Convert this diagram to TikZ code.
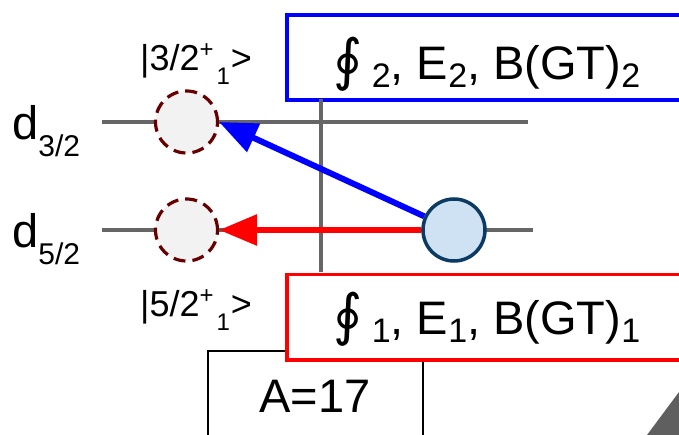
\documentclass[tikz,border=0pt]{standalone}
\usepackage{fontspec}
\setmainfont{Liberation Sans}
\newfontfamily\dejavu{DejaVu Sans}
\usetikzlibrary{arrows.meta}
\definecolor{boxblue}{HTML}{0000FF}
\definecolor{boxred}{HTML}{FF0000}
\definecolor{lvlgray}{HTML}{666666}
\definecolor{dashred}{HTML}{660000}
\definecolor{holefill}{HTML}{F2F2F2}
\definecolor{partfill}{HTML}{CFE2F3}
\definecolor{partdraw}{HTML}{0B3A63}
\definecolor{trigray}{HTML}{5F5F5F}
\newcommand{\bigsub}[1]{\raisebox{-8pt}{\fontsize{34}{34}\selectfont #1}}
\newcommand{\oin}{{\fontsize{56}{56}\selectfont\dejavu ∮}\hspace{9pt}}
\newcommand{\dsub}[1]{\raisebox{-17pt}{\fontsize{30}{30}\selectfont #1}}
\newcommand{\ketsup}[1]{\raisebox{13pt}{\fontsize{24}{24}\selectfont #1}}
\newcommand{\ketsub}[1]{\hspace{3pt}\raisebox{-14pt}{\fontsize{24}{24}\selectfont #1}\hspace{1pt}}
\begin{document}
\begin{tikzpicture}[x=1pt,y=-1pt,
  big/.style={font=\fontsize{47}{50}\selectfont},
  ket/.style={font=\fontsize{36}{40}\selectfont},
  level/.style={draw=lvlgray, line width=3.5pt},
  resbox/.style={line width=3.5pt, minimum width=440pt, minimum height=85pt, anchor=north west, inner sep=0pt},
  hole/.style={circle, inner sep=0pt, minimum size=62pt, draw=dashred, fill=holefill, line width=3.2pt, dash pattern=on 12pt off 7pt},
  part/.style={circle, inner sep=0pt, minimum size=62pt, draw=partdraw, fill=partfill, line width=3.5pt},
  trans/.style={line width=6pt, -{Triangle[length=38pt,width=30pt]}}]
\useasboundingbox (0,0) rectangle (679,435);
\clip (0,0) rectangle (679,435);

% A=17 box
\coordinate (abl) at (208,445);
\coordinate (abr) at (423,445);
\draw[black, line width=1.3pt] (abl) |- (315.5,351) -| (abr);
\node[big, anchor=base] (a17) at (315,412) {A=17};

% corner triangle
\fill[trigray] (647,435) -- (679,392) -- (679,435) -- cycle;

% result boxes
\node[resbox, draw=boxblue, fill=white] (b2) at (285,13.5) {};
\node[resbox, draw=boxred, fill=white] (b1) at (285,273) {};
\node[big, anchor=base] (t2) at (487,80) {\oin\bigsub{2}, E\bigsub{2}, B(GT)\bigsub{2}};
\node[big, anchor=base] (t1) at (487,334) {\oin\bigsub{1}, E\bigsub{1}, B(GT)\bigsub{1}};

% vertical line
\draw[level] (321,99) -- (321,272);

% levels
\coordinate (l3a) at (102,122);
\coordinate (l3b) at (528,122);
\coordinate (l5a) at (102,230);
\coordinate (l5b) at (533,230);
\draw[level] (l3a) -- (l3b);
\draw[level] (l5a) -- (l5b);

% circles
\node[hole] (h3) at (186.5,122) {};
\node[hole] (h5) at (186.5,230) {};
\node[part] (p) at (454,230) {};

% transitions
\draw[trans, draw=boxblue, fill=boxblue] (p) -- (h3.east);
\draw[trans, draw=boxred, fill=boxred] (p) -- (h5.east);

% labels
\node[big, anchor=base west, inner sep=0pt] (d3) at (12,140) {d\dsub{3/2}};
\node[big, anchor=base west, inner sep=0pt] (d5) at (12,248) {d\dsub{5/2}};
\node[ket, anchor=base west, inner sep=0pt] (k3) at (140,71) {|3/2\ketsup{+}\ketsub{1}>};
\node[ket, anchor=base west, inner sep=0pt] (k5) at (140,316) {|5/2\ketsup{+}\ketsub{1}>};
\end{tikzpicture}
\end{document}
